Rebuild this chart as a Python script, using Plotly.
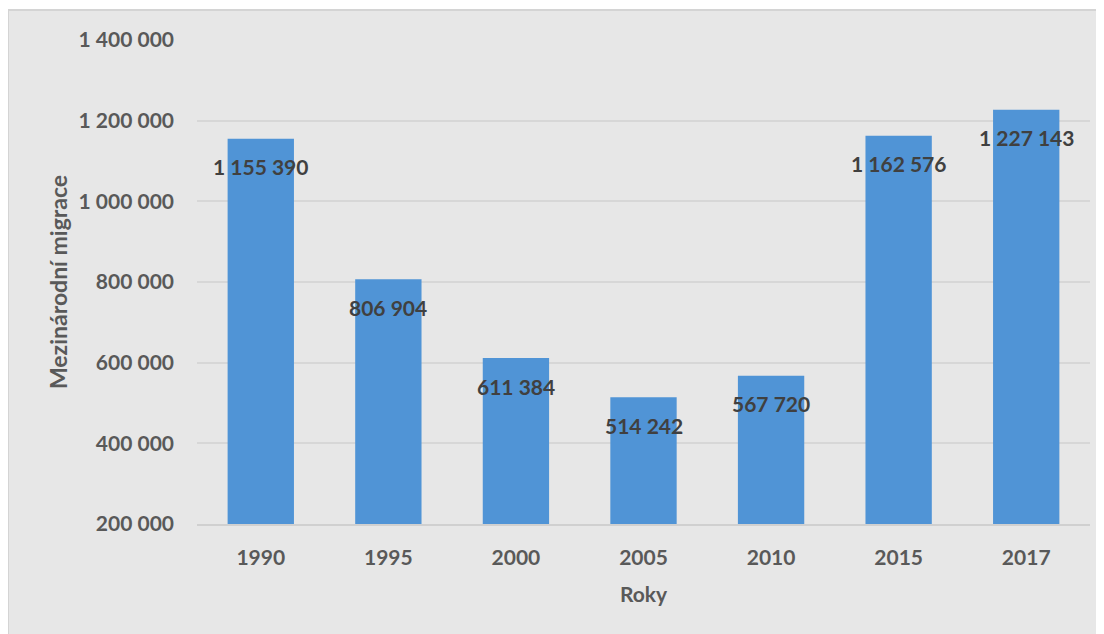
import plotly.graph_objects as go

years = ["1990", "1995", "2000", "2005", "2010", "2015", "2017"]
migration = [1155390, 806904, 611384, 514242, 567720, 1162576, 1227143]
y_ticks = [200000, 400000, 600000, 800000, 1000000, 1200000, 1400000]
y_title = "Mezinárodní migrace"
x_title = "Roky"

def fmt(v):
    return f"{v:,}".replace(",", " ")

# page has an 8px body margin, so the figure is placed at (8, 8)
OFF = 8
W, H = 1104 - OFF, 634 - OFF
L, R, T, B = 197 - OFF, 14, 40 - OFF, 634 - 524
pw, ph = W - L - R, H - T - B

BG = "#e7e7e7"
TXT = "#595959"
FONT = "Lato"

fig = go.Figure()
fig.add_trace(go.Bar(
    x=years, y=migration,
    marker=dict(color="#5094d6", line=dict(width=0)),
    textposition="none",
    hoverinfo="x+y",
))

for i, v in enumerate(migration):
    fig.add_annotation(x=i, y=v, text=fmt(v), showarrow=False,
                       yshift=-28, yanchor="middle",
                       font=dict(family=FONT, size=21, color="#404040", weight="bold"))

# chart-area border (left and top visible)
fig.add_shape(type="rect", xref="paper", yref="paper", layer="below",
              x0=(0 - L) / pw, x1=(W + 5 - L) / pw,
              y0=(H - B - (H + 5)) / ph, y1=(H - B - 2) / ph,
              fillcolor=BG, line=dict(color="#d4d4d4", width=2))

fig.update_layout(
    width=W, height=H,
    margin=dict(l=L, r=R, t=T, b=B),
    paper_bgcolor="white",
    plot_bgcolor="rgba(0,0,0,0)",
    separators=", ",
    bargap=0.48,
    showlegend=False,
    font=dict(family=FONT, color=TXT),
    xaxis=dict(
        type="category",
        range=[-0.5, len(years) - 0.5],
        tickfont=dict(family=FONT, size=21, color=TXT, weight="bold"),
        ticks="", showgrid=False, showline=True, linecolor="#d0d0d0", linewidth=2,
        ticklabelstandoff=14,
        title=dict(text=x_title, standoff=19,
                   font=dict(family=FONT, size=21, color=TXT, weight="bold")),
    ),
    yaxis=dict(
        range=[200000, 1400000],
        tickvals=y_ticks,
        ticktext=[fmt(t) for t in y_ticks],
        tickfont=dict(family=FONT, size=21, color=TXT, weight="bold"),
        showgrid=True, gridcolor="#d7d7d7", gridwidth=1.5,
        zeroline=False, showline=False, ticks="",
        ticklabelstandoff=22,
        title=dict(text=y_title, standoff=4,
                   font=dict(family=FONT, size=23, color=TXT, weight="bold")),
    ),
)

fig.write_html("out.html")
